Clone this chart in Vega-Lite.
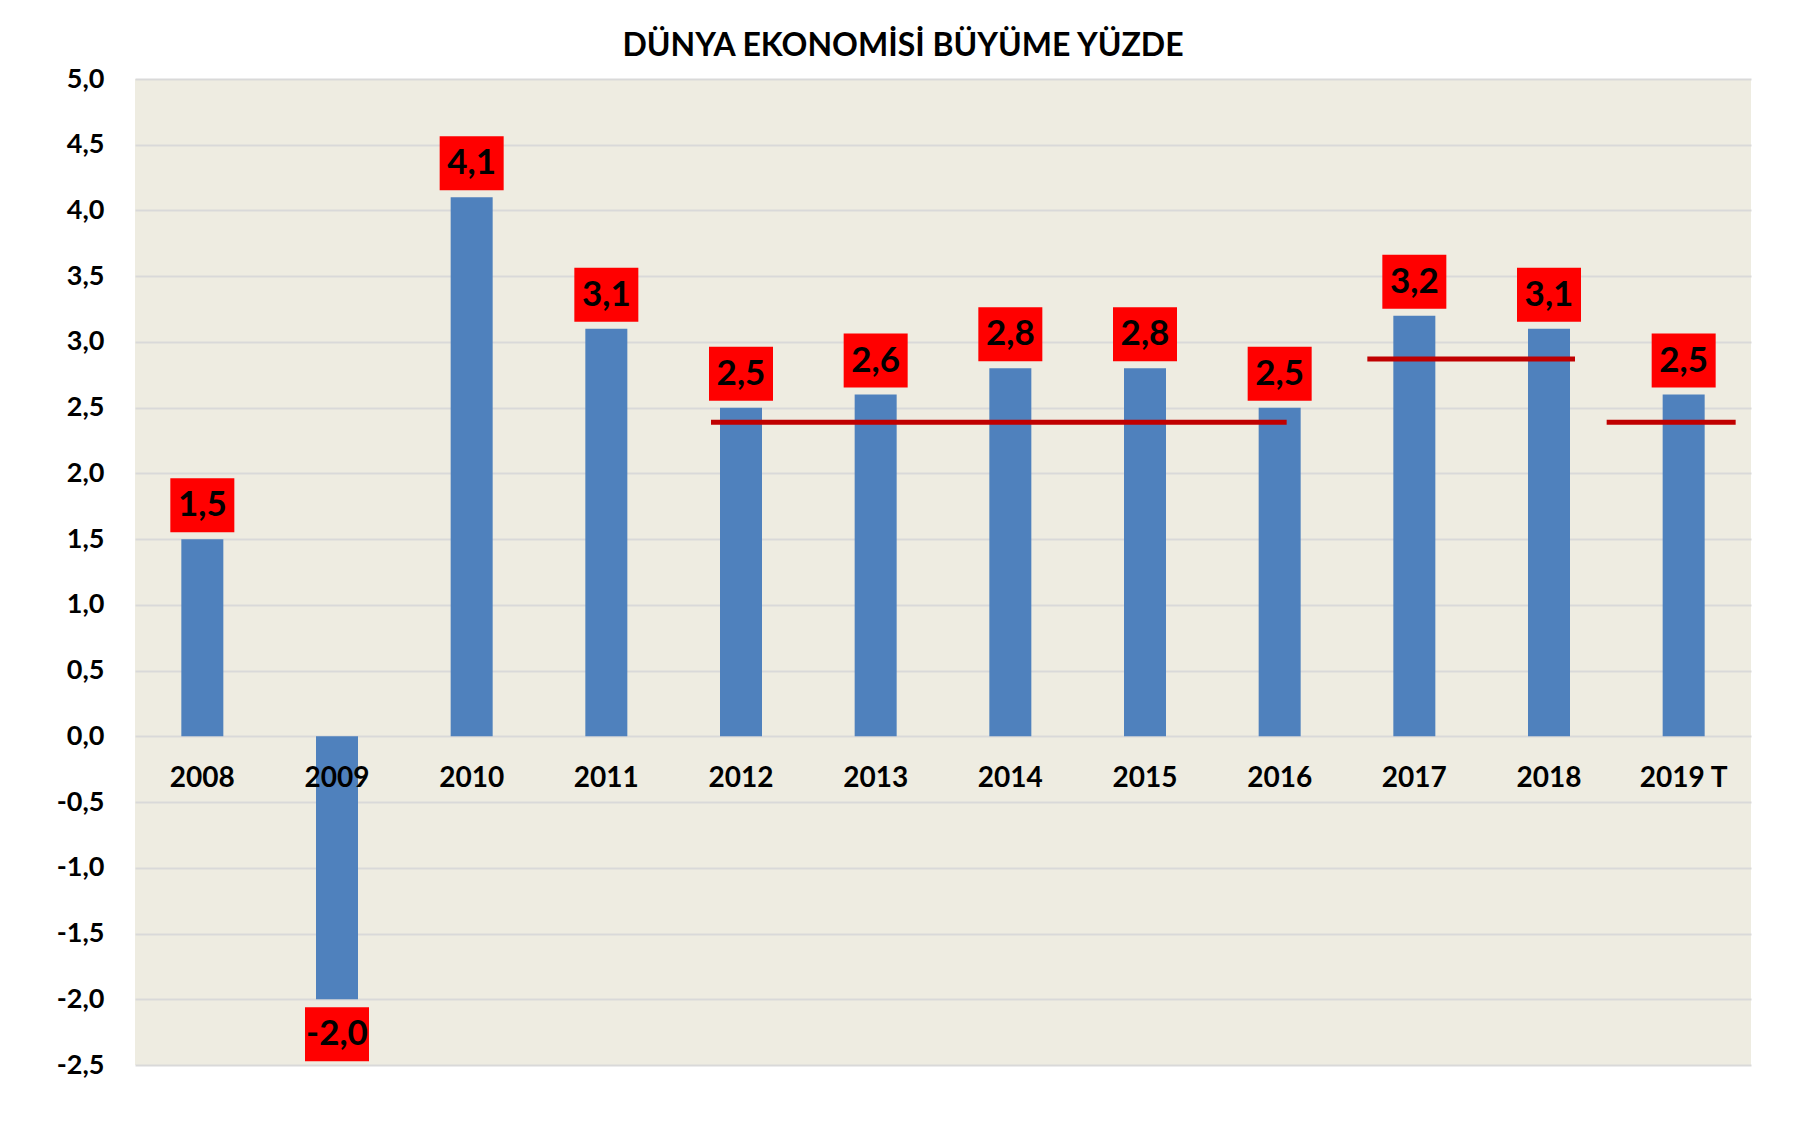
{
  "$schema": "https://vega.github.io/schema/vega-lite/v6.json",
  "width": 1616,
  "height": 986,
  "autosize": "none",
  "padding": {"left": 135, "top": 79, "right": 59, "bottom": 57},
  "background": "#FFFFFF",
  "title": {
    "text": "DÜNYA EKONOMİSİ BÜYÜME YÜZDE",
    "font": "Lato",
    "fontSize": 32,
    "fontWeight": "bold",
    "color": "#000000",
    "anchor": "middle",
    "frame": "group",
    "baseline": "alphabetic",
    "offset": 22,
    "dx": -40,
    "dy": 45
  },
  "config": {
    "view": {"fill": "#EEECE1", "stroke": null},
    "font": "Lato"
  },
  "data": {
    "values": [
      {"year": "2008", "value": 1.5, "label": "1,5"},
      {"year": "2009", "value": -2.0, "label": "-2,0"},
      {"year": "2010", "value": 4.1, "label": "4,1"},
      {"year": "2011", "value": 3.1, "label": "3,1"},
      {"year": "2012", "value": 2.5, "label": "2,5"},
      {"year": "2013", "value": 2.6, "label": "2,6"},
      {"year": "2014", "value": 2.8, "label": "2,8"},
      {"year": "2015", "value": 2.8, "label": "2,8"},
      {"year": "2016", "value": 2.5, "label": "2,5"},
      {"year": "2017", "value": 3.2, "label": "3,2"},
      {"year": "2018", "value": 3.1, "label": "3,1"},
      {"year": "2019 T", "value": 2.6, "label": "2,5"}
    ]
  },
  "encoding": {
    "x": {
      "field": "year",
      "type": "nominal",
      "sort": null,
      "scale": {"paddingInner": 0, "paddingOuter": 0},
      "axis": {
        "orient": "bottom",
        "offset": -329,
        "title": null,
        "labelAngle": 0,
        "ticks": false,
        "domain": false,
        "labelPadding": 28,
        "labelFont": "Lato",
        "labelFontSize": 28,
        "labelFontWeight": "bold",
        "labelColor": "#000000",
        "zindex": 1
      }
    },
    "y": {
      "field": "value",
      "type": "quantitative",
      "scale": {"domain": [-2.5, 5], "nice": false},
      "axis": {
        "title": null,
        "values": [-2.5, -2, -1.5, -1, -0.5, 0, 0.5, 1, 1.5, 2, 2.5, 3, 3.5, 4, 4.5, 5],
        "labelExpr": "replace(replace(format(datum.value, '.1f'), '.', ','), '\u2212', '-')",
        "domain": false,
        "ticks": false,
        "grid": true,
        "gridColor": "#D9D9D9",
        "gridWidth": 2,
        "labelPadding": 31,
        "labelFont": "Lato",
        "labelFontSize": 27,
        "labelFontWeight": "bold",
        "labelColor": "#000000"
      }
    }
  },
  "layer": [
    {
      "mark": {"type": "bar", "width": 42, "color": "#4F81BD"}
    },
    {
      "transform": [{"filter": "datum.value >= 0"}],
      "mark": {"type": "bar", "width": 64, "color": "#FF0000", "yOffset": -7, "y2Offset": -61},
      "encoding": {"y2": {"field": "value"}}
    },
    {
      "transform": [{"filter": "datum.value < 0"}],
      "mark": {"type": "bar", "width": 64, "color": "#FF0000", "yOffset": 8, "y2Offset": 62},
      "encoding": {"y2": {"field": "value"}}
    },
    {
      "transform": [{"filter": "datum.value >= 0"}],
      "mark": {"type": "text", "font": "Lato", "fontSize": 35, "fontWeight": "bold", "color": "#000000", "baseline": "middle", "align": "center", "yOffset": -34},
      "encoding": {"text": {"field": "label"}}
    },
    {
      "transform": [{"filter": "datum.value < 0"}],
      "mark": {"type": "text", "font": "Lato", "fontSize": 35, "fontWeight": "bold", "color": "#000000", "baseline": "middle", "align": "center", "yOffset": 35},
      "encoding": {"text": {"field": "label"}}
    },
    {
      "data": {"values": [{"start": "2012", "end": "2016", "avg": 2.39}]},
      "mark": {"type": "rule", "color": "#C00000", "strokeWidth": 5, "xOffset": -30, "x2Offset": 7},
      "encoding": {
        "x": {"field": "start", "type": "nominal", "sort": null},
        "x2": {"field": "end"},
        "y": {"field": "avg", "type": "quantitative"}
      }
    },
    {
      "data": {"values": [{"start": "2017", "end": "2018", "avg": 2.87}]},
      "mark": {"type": "rule", "color": "#C00000", "strokeWidth": 5, "xOffset": -47, "x2Offset": 26},
      "encoding": {
        "x": {"field": "start", "type": "nominal", "sort": null},
        "x2": {"field": "end"},
        "y": {"field": "avg", "type": "quantitative"}
      }
    },
    {
      "data": {"values": [{"start": "2019 T", "end": "2019 T", "avg": 2.39}]},
      "mark": {"type": "rule", "color": "#C00000", "strokeWidth": 5, "xOffset": -77, "x2Offset": 52},
      "encoding": {
        "x": {"field": "start", "type": "nominal", "sort": null},
        "x2": {"field": "end"},
        "y": {"field": "avg", "type": "quantitative"}
      }
    }
  ]
}
